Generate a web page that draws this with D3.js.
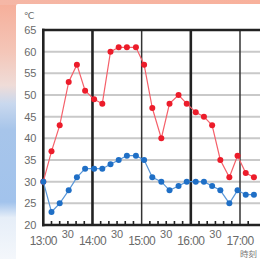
<!DOCTYPE html>
<html><head><meta charset="utf-8">
<script src="https://cdn.jsdelivr.net/npm/d3@7"></script>
<style>html,body{margin:0;padding:0;background:#fff;overflow:hidden}svg{display:block}</style>
</head><body>
<script>
// Data (minutes after 13:00, temperatures in ℃)
const times = [0,10,20,31,41,51,62,72,82,92,102,113,123,133,144,154,165,175,186,196,206,216,227,237,247,257];
const redTemps = [30,37,43,53,57,51,49,48,60,61,61,61,57,47,40,48,50,48,46,45,43,35,31,36,32,31];
const blueTemps = [30,23,25,28,31,33,33,33,34,35,36,36,35,31,30,28,29,30,30,30,29,28,25,28,27,27];
const yTicks = [20,25,30,35,40,45,50,55,60,65];
const hourTicks = [0,60,120,180,240];
const hourLabels = ["13:00","14:00","15:00","16:00","17:00"];
const halfTicks = [30,90,150,210];
const thickHours = [60,180];
const thinHours = [120,240];

const W = 260, H = 259;
const svg = d3.select("body").append("svg").attr("width", W).attr("height", H);
const defs = svg.append("defs");

// background decoration
const lg = defs.append("linearGradient").attr("id","leftg").attr("x1",0).attr("y1",0).attr("x2",0).attr("y2",1);
[[0,"#f6ad98"],[0.2,"#f4c6b8"],[0.33,"#efdcd8"],[0.4,"#c9d8ee"],[0.5,"#a7c5ea"],[0.78,"#a2c3ec"],[0.84,"#e6eef8"],[1,"#f4f7fb"]]
  .forEach(([o,c]) => lg.append("stop").attr("offset",o).attr("stop-color",c));
svg.append("rect").attr("x",0).attr("y",0).attr("width",W).attr("height",H).attr("fill","url(#leftg)");
const tg = defs.append("linearGradient").attr("id","topg").attr("x1",0).attr("y1",0).attr("x2",1).attr("y2",0);
[[0,"#f5b7a6"],[1,"#f8b19c"]].forEach(([o,c]) => tg.append("stop").attr("offset",o).attr("stop-color",c));
svg.append("rect").attr("x",0).attr("y",0).attr("width",W).attr("height",5).attr("fill","url(#topg)");
svg.append("rect").attr("x",16).attr("y",4).attr("width",W).attr("height",H).attr("rx",2).attr("fill","#fff");

const x = d3.scaleLinear().domain([0,240]).range([43.3,240]);
const y = d3.scaleLinear().domain([20,65]).range([225,30]);
const xEnd = W + 5;

// horizontal gridlines
svg.append("g").selectAll("line").data(yTicks.filter(v => v > 20 && v < 65)).join("line")
  .attr("x1", x(0)).attr("x2", xEnd).attr("y1", d => y(d)).attr("y2", d => y(d))
  .attr("stroke","#c9c9c9").attr("stroke-width",2);

// vertical hour lines
svg.append("g").selectAll("line").data(thinHours).join("line")
  .attr("x1", d => x(d)).attr("x2", d => x(d)).attr("y1", y(65)).attr("y2", y(20))
  .attr("stroke","#333").attr("stroke-width",1.5);
svg.append("g").selectAll("line").data(thickHours).join("line")
  .attr("x1", d => x(d)).attr("x2", d => x(d)).attr("y1", y(65)).attr("y2", y(20))
  .attr("stroke","#222").attr("stroke-width",2.6);

// ticks every 10 minutes along bottom
const minorTicks = d3.range(10, 260, 10).filter(m => m % 60 !== 0);
svg.append("g").selectAll("line").data(minorTicks).join("line")
  .attr("x1", d => x(d)).attr("x2", d => x(d)).attr("y1", y(20)).attr("y2", y(20) - 4)
  .attr("stroke","#222").attr("stroke-width",1.6);

// frame: left, top, bottom
svg.append("line").attr("x1", x(0)).attr("x2", x(0)).attr("y1", y(65)-1.3).attr("y2", y(20)+1.3)
  .attr("stroke","#222").attr("stroke-width",2.6);
svg.append("line").attr("x1", x(0)-1.3).attr("x2", xEnd).attr("y1", y(65)).attr("y2", y(65))
  .attr("stroke","#222").attr("stroke-width",2.6);
svg.append("line").attr("x1", x(0)-1.3).attr("x2", xEnd).attr("y1", y(20)).attr("y2", y(20))
  .attr("stroke","#222").attr("stroke-width",2.6);

// y labels
svg.append("g").selectAll("text").data(yTicks).join("text")
  .attr("x", 36.5).attr("y", d => y(d)).attr("dy","0.36em").attr("text-anchor","end")
  .attr("font-family","Liberation Sans, Arial, sans-serif").attr("font-size",11).attr("fill","#6a6a6a")
  .text(d => d);
svg.append("text").attr("x",29).attr("y",19).attr("text-anchor","middle")
  .attr("font-family","DejaVu Sans, sans-serif").attr("font-size",9.5).attr("fill","#6a6a6a").text("℃");

// x labels
svg.append("g").selectAll("text").data(hourTicks).join("text")
  .attr("x", d => x(d)).attr("y", 245).attr("text-anchor","middle")
  .attr("font-family","Liberation Sans, Arial, sans-serif").attr("font-size",12).attr("letter-spacing",-0.6).attr("fill","#6a6a6a")
  .text((d,i) => hourLabels[i]);
svg.append("g").selectAll("text").data(halfTicks).join("text")
  .attr("x", d => x(d)).attr("y", 238).attr("text-anchor","middle")
  .attr("font-family","Liberation Sans, Arial, sans-serif").attr("font-size",11).attr("fill","#6a6a6a")
  .text("30");
svg.append("text").attr("x",240).attr("y",256.5).attr("font-family","Noto Sans CJK JP, sans-serif")
  .attr("font-size",8.5).attr("fill","#777").text("時刻");

// series
const line = d3.line().x((d,i) => x(times[i])).y(d => y(d));
function series(vals, lineColor, dotColor) {
  svg.append("path").datum(vals).attr("d", line).attr("fill","none")
    .attr("stroke", lineColor).attr("stroke-width",1.2);
  svg.append("g").selectAll("circle").data(vals).join("circle")
    .attr("cx", (d,i) => x(times[i])).attr("cy", d => y(d)).attr("r",3)
    .attr("fill", dotColor);
}
series(redTemps, "#f5606a", "#ec1c2a");
series(blueTemps, "#5a97d8", "#1f6fc6");
</script>
</body></html>
